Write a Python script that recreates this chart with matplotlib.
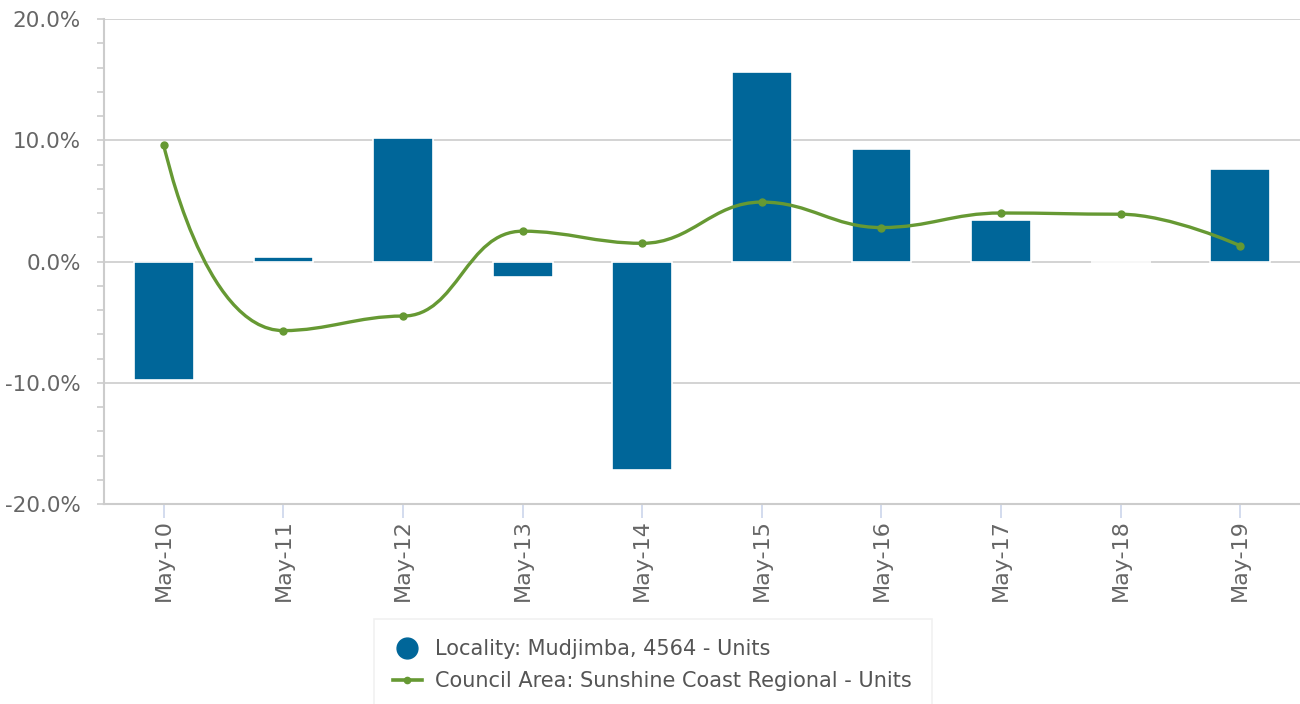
import numpy as np
import matplotlib
matplotlib.use("Agg")
import matplotlib.pyplot as plt
from matplotlib.path import Path
from matplotlib.patches import PathPatch
from matplotlib.lines import Line2D
from matplotlib.ticker import MultipleLocator, FuncFormatter

# data (annual change, %)
years = ["May-10", "May-11", "May-12", "May-13", "May-14",
         "May-15", "May-16", "May-17", "May-18", "May-19"]
locality = [-9.8, 0.4, 10.2, -1.3, -17.2, 15.6, 9.3, 3.4, 0.0, 7.6]
council = [9.6, -5.7, -4.5, 2.5, 1.5, 4.9, 2.8, 4.0, 3.9, 1.3]

blue = "#006699"
green = "#669933"
grey_txt = "#666666"

plt.rcParams["font.family"] = ["DejaVu Sans"]

fig = plt.figure(figsize=(13, 7.04), dpi=100)
ax = fig.add_axes([0.08, 1 - 504 / 704, 0.92, (504 - 19) / 704])

x = np.arange(len(years))
ax.set_xlim(-0.5, len(years) - 0.5)
ax.set_ylim(-20, 20)

# grid
ax.yaxis.set_major_locator(MultipleLocator(10))
ax.yaxis.set_minor_locator(MultipleLocator(2))
ax.grid(axis="y", which="major", color="#cccccc", linewidth=1.2, zorder=0)
ax.set_axisbelow(True)

# bars (white border hides the zero line like the original)
ax.bar(x, locality, width=0.5, color=blue, edgecolor="white", linewidth=1.2, zorder=2)

# smooth line like a highcharts spline, control points worked out in pixel space
pts = ax.transData.transform(np.column_stack([x, council]))
smooth = 1.5
n = len(pts)
lc = [None] * n
rc = [None] * n
for i in range(n):
    px, py = pts[i]
    if i == 0 or i == n - 1:
        lc[i] = (px, py)
        rc[i] = (px, py)
        continue
    lx, ly = pts[i - 1]
    nx, ny = pts[i + 1]
    lcx = (smooth * px + lx) / (smooth + 1)
    lcy = (smooth * py + ly) / (smooth + 1)
    rcx = (smooth * px + nx) / (smooth + 1)
    rcy = (smooth * py + ny) / (smooth + 1)
    dl = np.hypot(lcx - px, lcy - py)
    dr = np.hypot(rcx - px, rcy - py)
    la = np.arctan2(lcy - py, lcx - px)
    ra = np.arctan2(rcy - py, rcx - px)
    corr = np.pi / 2 + (la + ra) / 2
    if abs(la - corr) > np.pi / 2:
        corr -= np.pi
    lcx = px + np.cos(corr) * dl
    lcy = py + np.sin(corr) * dl
    rcx = px + np.cos(np.pi + corr) * dr
    rcy = py + np.sin(np.pi + corr) * dr
    # no false extremes
    if rcy > ly and rcy > py:
        rcy = max(ly, py)
        lcy = 2 * py - rcy
    elif rcy < ly and rcy < py:
        rcy = min(ly, py)
        lcy = 2 * py - rcy
    if lcy > ny and lcy > py:
        lcy = max(ny, py)
        rcy = 2 * py - lcy
    elif lcy < ny and lcy < py:
        lcy = min(ny, py)
        rcy = 2 * py - lcy
    lc[i] = (lcx, lcy)
    rc[i] = (rcx, rcy)

verts = [tuple(pts[0])]
codes = [Path.MOVETO]
for i in range(1, n):
    verts += [rc[i - 1], lc[i], tuple(pts[i])]
    codes += [Path.CURVE4] * 3
inv = ax.transData.inverted()
verts = inv.transform(np.array(verts))
ax.add_patch(PathPatch(Path(verts, codes), facecolor="none", edgecolor=green,
                       linewidth=2.4, capstyle="round", joinstyle="round", zorder=3))
ax.plot(x, council, linestyle="none", marker="o", markersize=5, color=green, zorder=4)

# axes styling
for s in ["top", "right"]:
    ax.spines[s].set_visible(False)
ax.spines["left"].set_color("#cccccc")
ax.spines["left"].set_linewidth(1.5)
ax.spines["bottom"].set_color("#cccccc")
ax.spines["bottom"].set_linewidth(1.5)

ax.yaxis.set_major_formatter(FuncFormatter(lambda v, p: f"{v:.1f}%"))
ax.tick_params(axis="y", which="both", length=5, width=1.2, color="#cccccc",
               labelsize=15.5, labelcolor=grey_txt, pad=11.5)
ax.set_xticks(x)
ax.set_xticklabels(years, rotation=90)
ax.tick_params(axis="x", length=10, width=1.2, color="#ccd6eb",
               labelsize=16, labelcolor=grey_txt, pad=1)

# legend
handles = [
    Line2D([], [], linestyle="none", marker="o", markersize=15, color=blue),
    Line2D([], [], color=green, linewidth=2.6, marker="o", markersize=4.5),
]
labels = ["Locality: Mudjimba, 4564 - Units",
          "Council Area: Sunshine Coast Regional - Units"]
leg = fig.legend(handles, labels, loc="upper center",
                 bbox_to_anchor=(0.502, 1 - 619 / 704), frameon=True,
                 fancybox=False, edgecolor="#eeeeee", fontsize=15,
                 labelcolor="#555555", handlelength=1.35, handletextpad=0.65,
                 borderpad=0.95, labelspacing=0.58, borderaxespad=0)
leg.get_frame().set_linewidth(1.2)

fig.savefig("out.png", dpi=100)
